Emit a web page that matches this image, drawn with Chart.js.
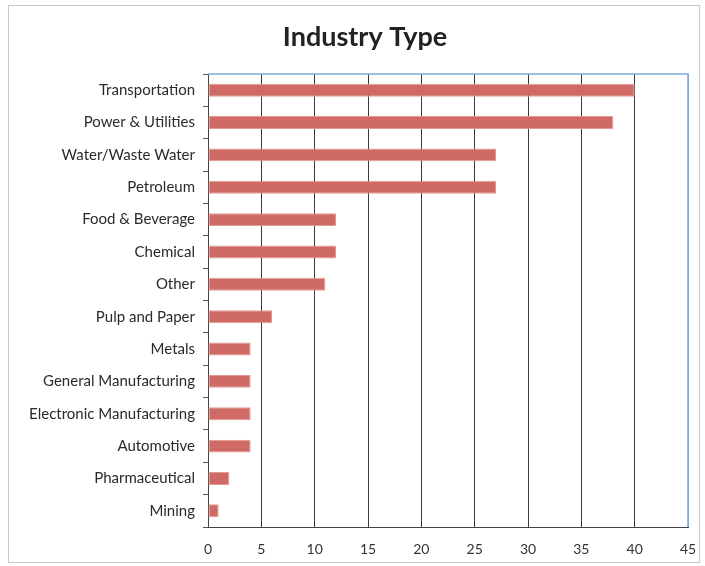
<!DOCTYPE html>
<html>
<head>
<meta charset="utf-8">
<script src="https://cdn.jsdelivr.net/npm/chart.js@4.4.1/dist/chart.umd.min.js"></script>
<style>
  html, body { margin: 0; padding: 0; background: #fff; }
  #wrap { width: 705px; height: 566px; position: relative; }
</style>
</head>
<body>
<div id="wrap"><canvas id="chart" width="705" height="566"></canvas></div>
<script>
/* Industry Type — horizontal bar chart */

const chartTitle = "Industry Type";
const categories = [
  "Transportation", "Power & Utilities", "Water/Waste Water", "Petroleum",
  "Food & Beverage", "Chemical", "Other", "Pulp and Paper", "Metals",
  "General Manufacturing", "Electronic Manufacturing", "Automotive",
  "Pharmaceutical", "Mining",
];
const counts = [40, 38, 27, 27, 12, 12, 11, 6, 4, 4, 4, 4, 2, 1];
const xTicks = [0, 5, 10, 15, 20, 25, 30, 35, 40, 45];

const FONT = "Lato, 'Open Sans', sans-serif";
const BLUE = "#7fa9d8";

// outer frame, title text, blue top/right edge of plot area
const framePlugin = {
  id: "frame",
  beforeDraw(chart) {
    const c = chart.ctx;
    c.save();
    c.fillStyle = "#fff";
    c.fillRect(0, 0, chart.width, chart.height);
    c.strokeStyle = "#c8c8c8";
    c.lineWidth = 1;
    c.strokeRect(8.5, 5.5, chart.width - 14, chart.height - 9);
    c.fillStyle = "#222";
    c.font = "bold 27px " + FONT;
    c.textAlign = "center";
    c.textBaseline = "middle";
    c.fillText(chartTitle, 365, 37);
    c.restore();
  },
  afterDatasetsDraw(chart) {
    const a = chart.chartArea, c = chart.ctx;
    c.save();
    c.strokeStyle = BLUE;
    c.lineWidth = 1.5;
    c.beginPath();
    c.moveTo(a.left, a.top);
    c.lineTo(a.right, a.top);
    c.lineTo(a.right, a.bottom);
    c.stroke();
    c.restore();
  },
};

new Chart(document.getElementById("chart"), {
  type: "bar",
  data: {
    labels: categories,
    datasets: [{
      data: counts,
      backgroundColor: "#cf6b64",
      borderColor: "#e39a94",
      borderWidth: 1,
      borderSkipped: false,
      barPercentage: 0.8,
      categoryPercentage: 0.5,
    }],
  },
  options: {
    indexAxis: "y",
    responsive: false,
    animation: false,
    layout: { padding: { left: 8, right: 17, top: 74, bottom: 9 } },
    plugins: {
      legend: { display: false },
      tooltip: { enabled: false },
      title: { display: false },
    },
    scales: {
      x: {
        min: 0,
        max: 45,
        afterBuildTicks: (s) => { s.ticks = xTicks.map((v) => ({ value: v })); },
        afterFit: (s) => { s.height = 30; s.paddingRight = 0; },
        ticks: { color: "#333", font: { family: FONT, size: 14 }, padding: 14 },
        grid: {
          color: (ctx) => (ctx.tick && ctx.tick.value === 45 ? BLUE : "#3a3a3a"),
          lineWidth: 1,
          drawTicks: false,
        },
        border: { color: "#444", width: 1 },
      },
      y: {
        afterFit: (s) => { s.width = 200; },
        ticks: { color: "#2a2a2a", font: { family: FONT, size: 15 }, padding: 8 },
        grid: { offset: true, drawOnChartArea: false, drawTicks: true, tickLength: 5, color: "#555" },
        border: { color: "#444", width: 1 },
      },
    },
  },
  plugins: [framePlugin],
});
</script>
</body>
</html>
